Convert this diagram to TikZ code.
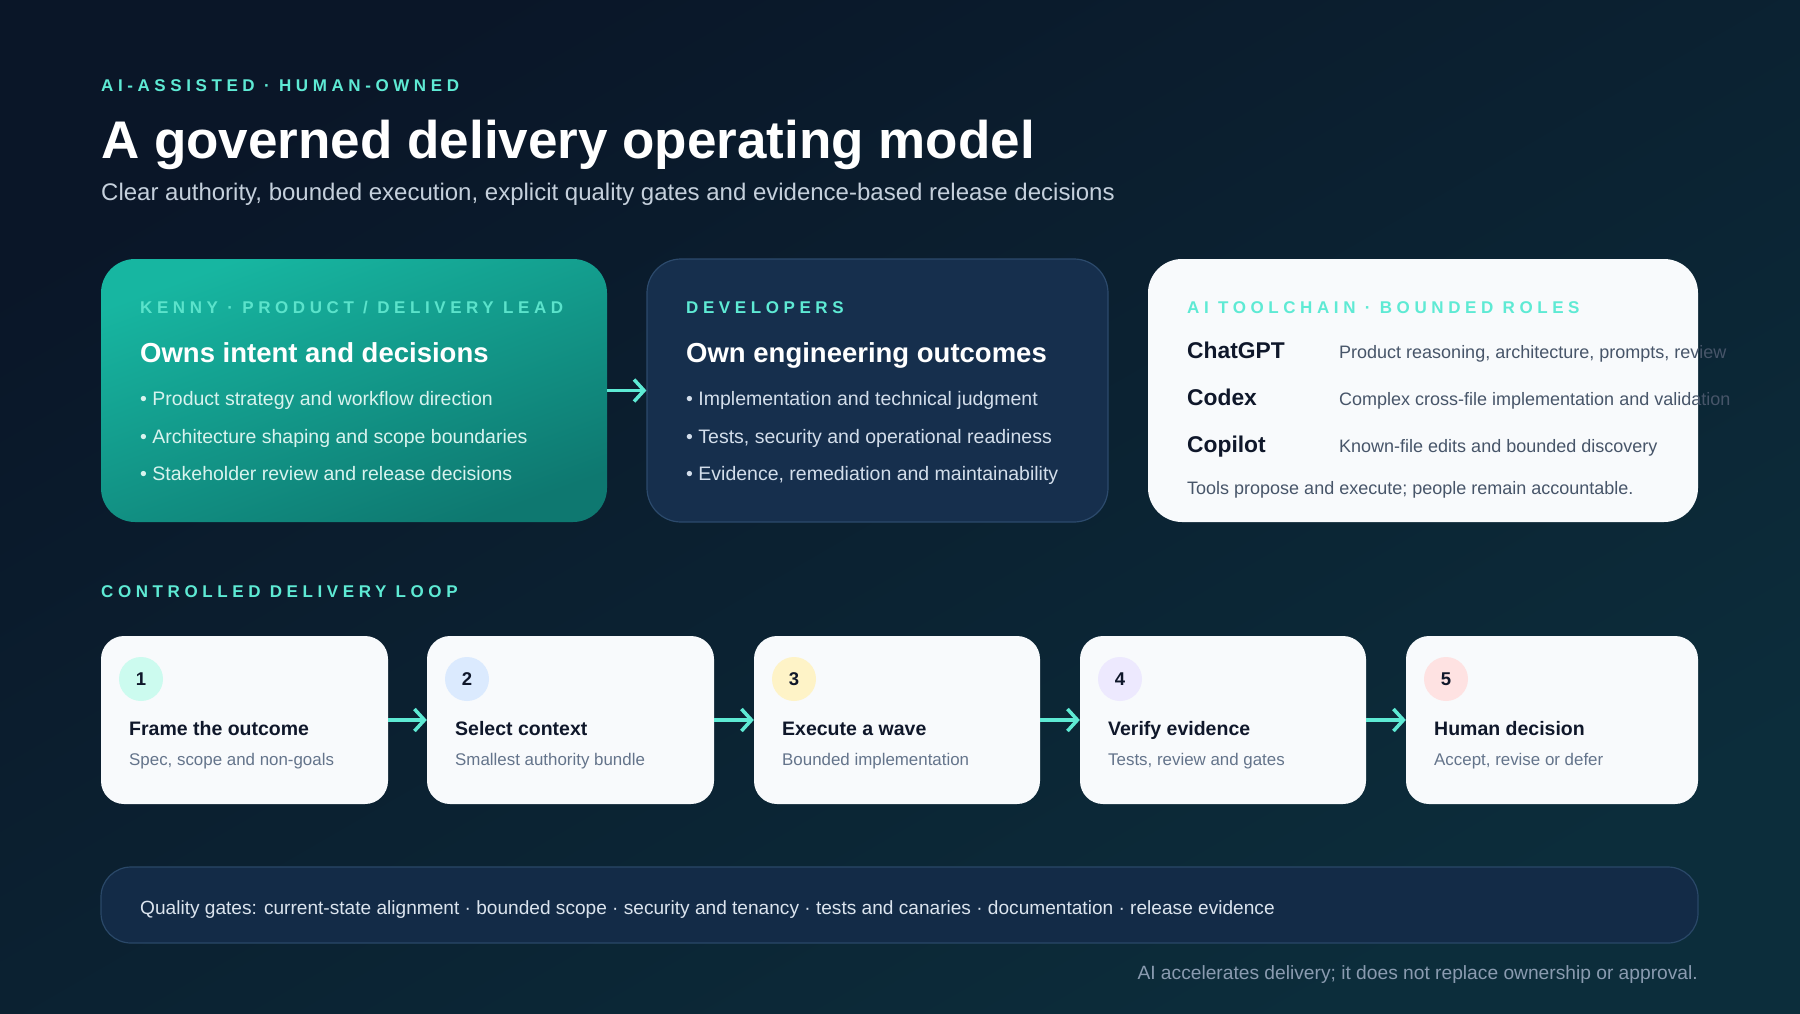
\documentclass[tikz,border=0pt]{standalone}
\usepackage{fontspec}
\setmainfont{Liberation Sans}
\newfontfamily\trackfont{Liberation Sans}[LetterSpace=27]
\usetikzlibrary{arrows.meta}
\definecolor{bgA}{HTML}{0A1628}
\definecolor{bgB}{HTML}{0C2D3B}
\definecolor{accent}{HTML}{5EEAD4}
\definecolor{tealA}{HTML}{17B6A1}
\definecolor{tealB}{HTML}{0E7870}
\definecolor{navycard}{HTML}{162F4D}
\definecolor{navyline}{HTML}{2C4A6C}
\definecolor{paper}{HTML}{F8FAFC}
\definecolor{ink}{HTML}{0F172A}
\definecolor{slate}{HTML}{475569}
\definecolor{slatelight}{HTML}{64748B}
\definecolor{subtitle}{HTML}{C5D0DC}
\definecolor{bulletA}{HTML}{D8F3EE}
\definecolor{bulletB}{HTML}{D3DEEB}
\definecolor{labelA}{HTML}{5BE3CB}
\definecolor{gatefill}{HTML}{132B47}
\definecolor{gateline}{HTML}{2A4868}
\definecolor{gatetext}{HTML}{DBE4EE}
\definecolor{foot}{HTML}{8A9BB0}
\definecolor{cMint}{HTML}{CCFBEF}
\definecolor{cBlue}{HTML}{DBEAFE}
\definecolor{cYellow}{HTML}{FEF3C7}
\definecolor{cLav}{HTML}{EDE9FE}
\definecolor{cPink}{HTML}{FEE2E2}
\begin{document}
\begin{tikzpicture}[x=1pt,y=-1pt,
  txt/.style={anchor=mid west, inner sep=0pt},
  tag/.style={txt, font=\trackfont\bfseries\fontsize{17}{20}\selectfont, text=accent},
  heading/.style={txt, font=\bfseries\fontsize{27.5}{32}\selectfont, text=white},
  bul/.style={txt, font=\fontsize{19.5}{23}\selectfont},
  toolname/.style={txt, font=\bfseries\fontsize{22.8}{26}\selectfont, text=ink},
  tooldesc/.style={txt, font=\fontsize{18}{21}\selectfont, text=slate},
  bigcard/.style={rectangle, rounded corners=34pt, minimum height=263pt, inner sep=0pt},
  stepcard/.style={rectangle, rounded corners=23pt, fill=paper, minimum height=168pt, inner sep=0pt},
  num/.style={circle, minimum size=44pt, inner sep=0pt, font=\bfseries\fontsize{18.5}{20}\selectfont, text=ink},
  steptitle/.style={txt, font=\bfseries\fontsize{19.5}{23}\selectfont, text=ink},
  stepsub/.style={txt, font=\fontsize{16.9}{20}\selectfont, text=slatelight},
  flow/.style={draw=accent, line width=3.5pt, -{Straight Barb[length=10pt,width=22pt]}}
]
\useasboundingbox (0,0) rectangle (1800,1013);
\shade[top color=bgA, bottom color=bgB, shading angle=30] (0,0) rectangle (1800,1013);

% header
\node[tag] (kicker) at (101,89) {AI-ASSISTED · HUMAN-OWNED};
\node[txt, font=\bfseries\fontsize{53}{60}\selectfont, text=white] (title) at (101,156) {A governed delivery operating model};
\node[txt, font=\fontsize{24}{28}\selectfont, text=subtitle] (sub) at (101,198) {Clear authority, bounded execution, explicit quality gates and evidence-based release decisions};

% top cards
\node[bigcard, minimum width=506pt, top color=tealA, bottom color=tealB, shading angle=20] (lead) at (354,390.5) {};
\node[bigcard, minimum width=461pt, fill=navycard, draw=navyline, line width=1.2pt] (dev) at (877.5,390.5) {};
\node[bigcard, minimum width=550pt, fill=paper] (ai) at (1423,390.5) {};

\draw[flow] (lead.east) -- (dev.west);

% card 1
\node[tag, text=labelA] (leadtag) at (140,311) {KENNY · PRODUCT / DELIVERY LEAD};
\node[heading] (leadhead) at (140,360) {Owns intent and decisions};
\node[bul, text=bulletA] (lb1) at (140,403) {• Product strategy and workflow direction};
\node[bul, text=bulletA] (lb2) at (140,441) {• Architecture shaping and scope boundaries};
\node[bul, text=bulletA] (lb3) at (140,478) {• Stakeholder review and release decisions};

% card 2
\node[tag] (devtag) at (686,311) {DEVELOPERS};
\node[heading] (devhead) at (686,360) {Own engineering outcomes};
\node[bul, text=bulletB] (db1) at (686,403) {• Implementation and technical judgment};
\node[bul, text=bulletB] (db2) at (686,441) {• Tests, security and operational readiness};
\node[bul, text=bulletB] (db3) at (686,478) {• Evidence, remediation and maintainability};

% card 3
\node[tag] (aitag) at (1187,311) {AI TOOLCHAIN · BOUNDED ROLES};
\node[toolname] (t1) at (1187,356) {ChatGPT};
\node[toolname] (t2) at (1187,403) {Codex};
\node[toolname] (t3) at (1187,450) {Copilot};
\node[tooldesc] (d1) at (1339,356) {Product reasoning, architecture, prompts, review};
\node[tooldesc] (d2) at (1339,403) {Complex cross-file implementation and validation};
\node[tooldesc] (d3) at (1339,450) {Known-file edits and bounded discovery};
\node[tooldesc] (aifoot) at (1187,492) {Tools propose and execute; people remain accountable.};

% loop
\node[tag] (looptag) at (101,595) {CONTROLLED DELIVERY LOOP};

\node[stepcard, minimum width=287pt] (s1) at (244.5,720) {};
\node[stepcard, minimum width=287pt] (s2) at (570.5,720) {};
\node[stepcard, minimum width=286pt] (s3) at (897,720) {};
\node[stepcard, minimum width=286pt] (s4) at (1223,720) {};
\node[stepcard, minimum width=292pt] (s5) at (1552,720) {};

\draw[flow] (s1.east) -- (s2.west);
\draw[flow] (s2.east) -- (s3.west);
\draw[flow] (s3.east) -- (s4.west);
\draw[flow] (s4.east) -- (s5.west);

\node[num, fill=cMint] (n1) at (141,679) {1};
\node[num, fill=cBlue] (n2) at (467,679) {2};
\node[num, fill=cYellow] (n3) at (794,679) {3};
\node[num, fill=cLav] (n4) at (1120,679) {4};
\node[num, fill=cPink] (n5) at (1446,679) {5};

\node[steptitle] (st1) at (129,733) {Frame the outcome};
\node[stepsub] (ss1) at (129,763) {Spec, scope and non-goals};
\node[steptitle] (st2) at (455,733) {Select context};
\node[stepsub] (ss2) at (455,763) {Smallest authority bundle};
\node[steptitle] (st3) at (782,733) {Execute a wave};
\node[stepsub] (ss3) at (782,763) {Bounded implementation};
\node[steptitle] (st4) at (1108,733) {Verify evidence};
\node[stepsub] (ss4) at (1108,763) {Tests, review and gates};
\node[steptitle] (st5) at (1434,733) {Human decision};
\node[stepsub] (ss5) at (1434,763) {Accept, revise or defer};

% quality gates
\node[rectangle, rounded corners=30pt, minimum width=1597pt, minimum height=76pt, fill=gatefill, draw=gateline, line width=1.2pt, inner sep=0pt] (gates) at (899.5,905) {};
\node[txt, font=\fontsize{19.1}{22}\selectfont, text=gatetext] (gatestext) at (140,912) {Quality gates: current-state alignment · bounded scope · security and tenancy · tests and canaries · documentation · release evidence};

\node[anchor=mid east, inner sep=0pt, font=\fontsize{19.2}{22}\selectfont, text=foot] (footer) at (1698,977) {AI accelerates delivery; it does not replace ownership or approval.};
\end{tikzpicture}
\end{document}
